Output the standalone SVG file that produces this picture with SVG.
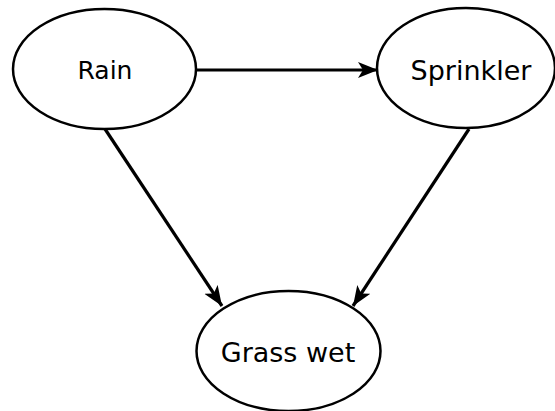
<svg xmlns="http://www.w3.org/2000/svg" width="555" height="411" viewBox="0 0 555 411">
<style>
.node ellipse{fill:#fff;stroke:#000;stroke-width:2.5}
.node text{font-family:"DejaVu Sans",Verdana,sans-serif;font-size:27px;fill:#000;text-anchor:middle}
.edges line{stroke:#000;stroke-width:3.2;fill:none}
</style>
<defs>
<marker id="arr" markerUnits="userSpaceOnUse" markerWidth="22" markerHeight="18" refX="20" refY="8" orient="auto">
<path d="M0,0 L20,8 L0,16 L5,8 Z" fill="#000"/>
</marker>
</defs>
<g id="rain" class="node">
<ellipse cx="104.5" cy="69" rx="91.5" ry="60"/>
<text x="105" y="79" style="font-size:25px">Rain</text>
</g>
<g id="sprinkler" class="node">
<ellipse cx="466" cy="68" rx="89" ry="60"/>
<text x="471" y="80">Sprinkler</text>
</g>
<g id="grass" class="node">
<ellipse cx="288.5" cy="351" rx="92" ry="60"/>
<text x="288" y="362">Grass wet</text>
</g>
<g id="edges" class="edges">
<line x1="197" y1="70" x2="378" y2="70" marker-end="url(#arr)"/>
<line x1="105" y1="129" x2="222" y2="306" marker-end="url(#arr)"/>
<line x1="469" y1="129" x2="353" y2="306" marker-end="url(#arr)"/>
</g>
</svg>
